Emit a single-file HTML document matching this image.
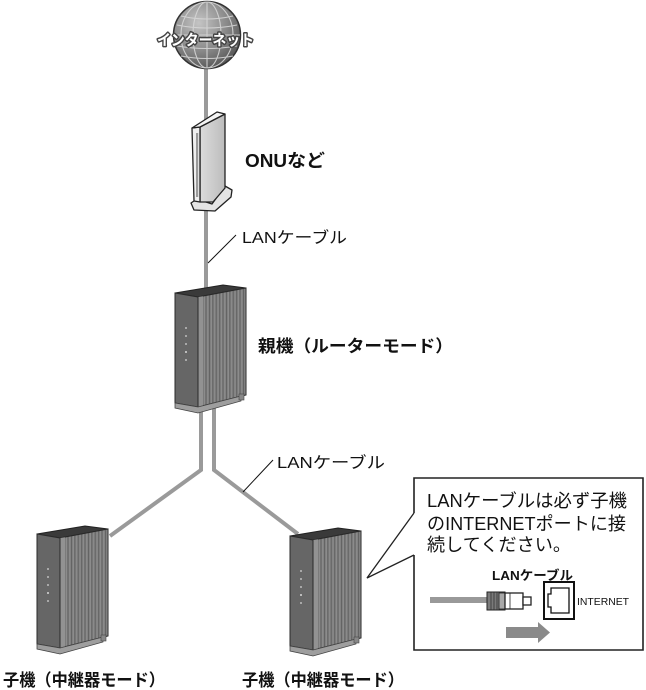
<!DOCTYPE html>
<html>
<head>
<meta charset="utf-8">
<style>
  html,body{margin:0;padding:0;background:#fff;}
  body{width:646px;height:690px;overflow:hidden;}
  svg{display:block;}
  text{font-family:"Liberation Sans","Noto Sans CJK JP",sans-serif;fill:#111;}
</style>
</head>
<body>
<svg width="646" height="690" viewBox="0 0 646 690" xmlns="http://www.w3.org/2000/svg">
  <defs>
    <radialGradient id="globeG" cx="0.38" cy="0.32" r="0.75">
      <stop offset="0" stop-color="#c4c4c4"/>
      <stop offset="0.55" stop-color="#8a8a8a"/>
      <stop offset="1" stop-color="#505050"/>
    </radialGradient>
    <linearGradient id="onuG" x1="0" y1="0" x2="1" y2="0">
      <stop offset="0" stop-color="#dcdcdc"/>
      <stop offset="1" stop-color="#bcbcbc"/>
    </linearGradient>
    <pattern id="ridge" patternUnits="userSpaceOnUse" width="3.4" height="200">
      <rect x="0" y="0" width="3.4" height="200" fill="#7e7e7e"/>
      <rect x="0" y="0" width="0.8" height="200" fill="#5e5e5e"/>
      <rect x="1.9" y="0" width="0.7" height="200" fill="#949494"/>
    </pattern>
    <g id="dev">
      <polygon points="0,7 23,11 71,2 48,-1" fill="#3a3a3a" stroke="#222" stroke-width="1"/>
      <polygon points="0,7 23,11 23,121 0,117" fill="#666" stroke="#2a2a2a" stroke-width="1"/>
      <polygon points="23,11 71,2 71,109 23,121" fill="url(#ridge)" stroke="#2a2a2a" stroke-width="1"/>
      <polygon points="23.5,11 28,10.2 28,120 23.5,121" fill="#929292"/>
      <polygon points="0,117 23,121 66,110 66,115 23,127 0,122" fill="#9e9e9e" stroke="#444" stroke-width="0.8"/>
      <rect x="64" y="108" width="5" height="6" fill="#888" stroke="#444" stroke-width="0.6"/>
      <g fill="#d8d8d8">
        <circle cx="11" cy="42" r="0.9"/>
        <circle cx="11" cy="50" r="0.9"/>
        <circle cx="11" cy="58" r="0.9"/>
        <circle cx="11" cy="66" r="1"/>
        <circle cx="11" cy="74" r="0.9"/>
      </g>
    </g>
  </defs>

  <!-- cables -->
  <line x1="206" y1="66" x2="206" y2="292" stroke="#9a9a9a" stroke-width="4"/>
  <polyline points="201,408 201,470 110,536" fill="none" stroke="#9a9a9a" stroke-width="4" stroke-linejoin="miter"/>
  <polyline points="214,406 214,470 298,534" fill="none" stroke="#9a9a9a" stroke-width="4" stroke-linejoin="miter"/>

  <!-- globe -->
  <g>
    <circle cx="207" cy="35" r="33.5" fill="url(#globeG)" stroke="#333" stroke-width="1.5"/>
    <g fill="none" stroke="#d6d6d6" stroke-width="1.1" opacity="0.9">
      <line x1="207" y1="2" x2="207" y2="68"/>
      <ellipse cx="207" cy="35" rx="14" ry="33"/>
      <ellipse cx="207" cy="35" rx="26" ry="33"/>
      <line x1="174" y1="35" x2="240" y2="35"/>
      <path d="M181,16 Q207,22 233,16"/>
      <path d="M177,25 Q207,31 237,25"/>
      <path d="M177,46 Q207,51 237,46"/>
      <path d="M181,56 Q207,61 233,56"/>
    </g>
    <text x="157" y="45" font-size="15" font-weight="bold" textLength="97" lengthAdjust="spacingAndGlyphs" style="fill:#fff;stroke:#444;stroke-width:3;paint-order:stroke;stroke-linejoin:round">インターネット</text>
  </g>

  <!-- ONU -->
  <g stroke="#222" stroke-width="1.3" stroke-linejoin="round">
    <path d="M191,203 L197,199 L212,204 L225,186 L232,190 L231,197 L215,211 L194,210 Z" fill="#e4e4e4"/>
    <polygon points="200,127 225,114 225,188 213,202 200,202" fill="url(#onuG)"/>
    <polygon points="192,128 200,127 200,202 194,201" fill="#efefef"/>
    <polygon points="192,128 200,127 225,114 217,112" fill="#f4f4f4"/>
  </g>
  <rect x="196" y="133" width="2.2" height="64" fill="#9a9a9a"/>

  <!-- devices -->
  <use href="#dev" transform="translate(175,286)"/>
  <use href="#dev" transform="translate(37,527)"/>
  <use href="#dev" transform="translate(290,529)"/>

  <!-- leader lines -->
  <line x1="236" y1="235" x2="208" y2="263" stroke="#111" stroke-width="1"/>
  <line x1="273" y1="460" x2="243" y2="492" stroke="#111" stroke-width="1"/>

  <!-- labels -->
  <text x="245" y="167" font-size="18" font-weight="bold" textLength="80" lengthAdjust="spacingAndGlyphs">ONUなど</text>
  <text x="242" y="243" font-size="16" textLength="105" lengthAdjust="spacingAndGlyphs">LANケーブル</text>
  <text x="258" y="352" font-size="17" font-weight="bold" textLength="195" lengthAdjust="spacingAndGlyphs">親機（ルーターモード）</text>
  <text x="277" y="468" font-size="16" textLength="108" lengthAdjust="spacingAndGlyphs">LANケーブル</text>
  <text x="3" y="686" font-size="17" font-weight="bold" textLength="162" lengthAdjust="spacingAndGlyphs">子機（中継器モード）</text>
  <text x="242" y="686" font-size="17" font-weight="bold" textLength="162" lengthAdjust="spacingAndGlyphs">子機（中継器モード）</text>

  <!-- callout -->
  <rect x="414" y="478" width="229" height="172" fill="#fff"/>
  <polygon points="414,513 367,578 414,555" fill="#fff"/>
  <path d="M414,513 V478 H643 V650 H414 V555" fill="none" stroke="#222" stroke-width="1.6"/>
  <path d="M414,513 L367,578 L414,555" fill="none" stroke="#222" stroke-width="1.3" stroke-linejoin="miter"/>

  <text x="427" y="507" font-size="18" textLength="200" lengthAdjust="spacingAndGlyphs">LANケーブルは必ず子機</text>
  <text x="427" y="530" font-size="18" textLength="199" lengthAdjust="spacingAndGlyphs">のINTERNETポートに接</text>
  <text x="427" y="551" font-size="18" textLength="144" lengthAdjust="spacingAndGlyphs">続してください。</text>
  <text x="492" y="580" font-size="13" font-weight="bold" textLength="81" lengthAdjust="spacingAndGlyphs">LANケーブル</text>

  <!-- cable + connector -->
  <rect x="430" y="597" width="58" height="6" fill="#999"/>
  <rect x="487" y="592" width="18" height="18" fill="#7a7a7a" stroke="#222" stroke-width="1"/>
  <g stroke="#333" stroke-width="0.8">
    <line x1="491" y1="592" x2="491" y2="610"/>
    <line x1="494" y1="592" x2="494" y2="610"/>
    <line x1="497" y1="592" x2="497" y2="610"/>
  </g>
  <rect x="499" y="593" width="6" height="16" fill="#a8a8a8" stroke="#222" stroke-width="0.8"/>
  <rect x="505" y="593" width="18" height="16" fill="#fff" stroke="#222" stroke-width="1.3"/>
  <rect x="523" y="597" width="8" height="8" fill="#fff" stroke="#222" stroke-width="1.3"/>
  <line x1="510" y1="593" x2="510" y2="609" stroke="#222" stroke-width="0.8"/>

  <!-- port -->
  <rect x="544" y="582" width="30" height="37" fill="#fff" stroke="#111" stroke-width="2"/>
  <path d="M551,588 H569 V613 H551 V607 H548 V594 H551 Z" fill="none" stroke="#111" stroke-width="1.3"/>
  <text x="577" y="605" font-size="10.5" textLength="52" lengthAdjust="spacingAndGlyphs">INTERNET</text>

  <!-- arrow -->
  <polygon points="506,627 538,627 538,622 550,632.5 538,643 538,638 506,638" fill="#8a8a8a"/>
</svg>
</body>
</html>
